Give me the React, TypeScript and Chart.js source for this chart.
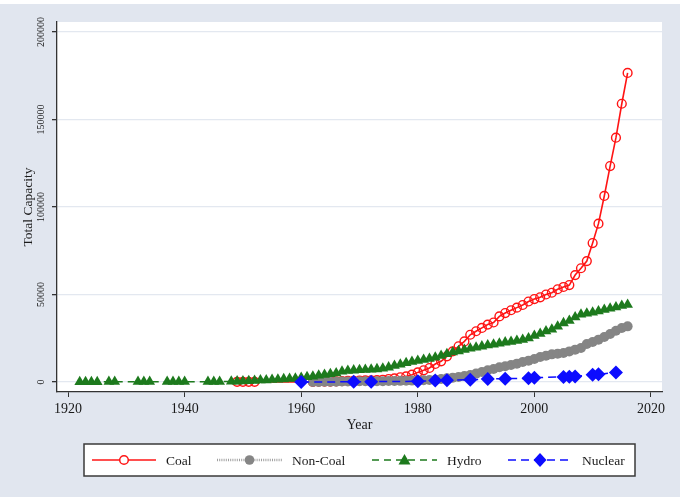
import React, { useEffect, useRef } from 'react';
import { Chart, registerables } from 'chart.js';

Chart.register(...registerables);

// ---------------- data ----------------
const coalYears = [
  1949, 1950, 1951, 1952,
  1962, 1963, 1964, 1965, 1966, 1967, 1968, 1969, 1970, 1971, 1972, 1973, 1974, 1975, 1976, 1977, 1978, 1979,
  1980, 1981, 1982, 1983, 1984, 1985, 1986, 1987, 1988, 1989, 1990, 1991, 1992, 1993, 1994, 1995, 1996, 1997,
  1998, 1999, 2000, 2001, 2002, 2003, 2004, 2005, 2006, 2007, 2008, 2009, 2010, 2011, 2012, 2013, 2014, 2015, 2016,
];
const coalValues = [
  100, 100, 100, 100,
  100, 150, 200, 250, 400, 500, 600, 700, 800, 900, 1000, 1100, 1300, 1700, 2100, 2700, 3200, 4200,
  5500, 6700, 8000, 10300, 11800, 14700, 17500, 20400, 23200, 27000, 29000, 30900, 32800, 34000, 37500, 39400, 41000, 42500,
  44000, 46000, 47400, 48400, 50000, 51000, 53000, 54300, 55400, 61100, 65000, 69100, 79400, 90500, 106300, 123400, 139600, 159000, 176600,
];

const nonCoalYears = [
  1962, 1963, 1964, 1965, 1966, 1967, 1968, 1969, 1970, 1971, 1972, 1973, 1974, 1975, 1976, 1977, 1978, 1979,
  1980, 1981, 1982, 1983, 1984, 1985, 1986, 1987, 1988, 1989, 1990, 1991, 1992, 1993, 1994, 1995, 1996, 1997,
  1998, 1999, 2000, 2001, 2002, 2003, 2004, 2005, 2006, 2007, 2008, 2009, 2010, 2011, 2012, 2013, 2014, 2015, 2016,
];
const nonCoalValues = [
  0, 50, 100, 150, 200, 250, 300, 350, 400, 400, 450, 500, 500, 550, 600, 650, 700, 800,
  900, 1000, 1100, 1300, 1700, 2100, 2500, 2900, 3400, 4000, 4800, 5700, 6700, 7400, 8400, 9000, 9700, 10500,
  11400, 12200, 13100, 14300, 15000, 15800, 16200, 16600, 17500, 18500, 19400, 21700, 22900, 24200, 25700, 27400, 29300, 30900, 31800,
];

const hydroYears = [
  1922, 1923, 1924, 1925, 1927, 1928, 1932, 1933, 1934, 1937, 1938, 1939, 1940, 1944, 1945, 1946,
  1948, 1949, 1950, 1951, 1952, 1953, 1954, 1955, 1956, 1957, 1958, 1959, 1960, 1961,
  1962, 1963, 1964, 1965, 1966, 1967, 1968, 1969, 1970, 1971, 1972, 1973, 1974, 1975, 1976, 1977, 1978, 1979,
  1980, 1981, 1982, 1983, 1984, 1985, 1986, 1987, 1988, 1989, 1990, 1991, 1992, 1993, 1994, 1995, 1996, 1997,
  1998, 1999, 2000, 2001, 2002, 2003, 2004, 2005, 2006, 2007, 2008, 2009, 2010, 2011, 2012, 2013, 2014, 2015, 2016,
];
const hydroValues = [
  100, 100, 100, 100, 150, 150, 150, 150, 150, 200, 200, 200, 200, 200, 200, 200,
  300, 400, 500, 600, 800, 1000, 1100, 1300, 1500, 1700, 1900, 2100, 2500, 2900,
  3200, 3800, 4200, 4600, 5100, 6100, 6500, 6700, 6900, 7000, 7200, 7400, 7800, 8400, 9300, 10100, 10900, 11600,
  12200, 12800, 13300, 14100, 15000, 16000, 17000, 17700, 18500, 19200, 19800, 20400, 21000, 21500, 22000, 22700, 23000, 23600,
  24200, 25100, 26500, 27600, 29000, 30000, 31800, 33700, 35000, 37000, 38600, 39200, 39800, 40500, 41300, 42000, 42800, 43600, 44200,
];

const nuclearYears = [1960, 1969, 1972, 1980, 1983, 1985, 1989, 1992, 1995, 1999, 2000, 2005, 2006, 2007, 2010, 2011, 2014];
const nuclearValues = [0, 100, 200, 400, 800, 1000, 1300, 1700, 1900, 2100, 2500, 2900, 3000, 3200, 4200, 4400, 5500];

const xTicks = [1920, 1940, 1960, 1980, 2000, 2020];
const yTicks = [0, 50000, 100000, 150000, 200000];

const seriesNames = ['Coal', 'Non-Coal', 'Hydro', 'Nuclear'];

// ---------------- styles ----------------
const FONT = "'Liberation Serif', 'Times New Roman', serif";
const BG = '#e1e6ef';
const RED = '#ff1414';
const GRAY = '#858585';
const GREEN = '#1d7a1d';
const BLUE = '#0c0cff';

const toPoints = (xs: number[], ys: number[]) => xs.map((x, i) => ({ x, y: ys[i] }));

function drawMarker(ctx: CanvasRenderingContext2D, kind: string, x: number, y: number, color: string) {
  ctx.save();
  ctx.setLineDash([]);
  ctx.strokeStyle = color;
  ctx.fillStyle = color;
  ctx.lineWidth = 1.5;
  ctx.beginPath();
  if (kind === 'oh') {
    ctx.arc(x, y, 4.3, 0, Math.PI * 2);
    ctx.fillStyle = '#fff';
    ctx.fill();
    ctx.stroke();
  } else if (kind === 'o') {
    ctx.arc(x, y, 4.8, 0, Math.PI * 2);
    ctx.fill();
  } else if (kind === 't') {
    ctx.moveTo(x, y - 6);
    ctx.lineTo(x + 6, y + 4.5);
    ctx.lineTo(x - 6, y + 4.5);
    ctx.closePath();
    ctx.fill();
  } else {
    ctx.moveTo(x, y - 7);
    ctx.lineTo(x + 6.5, y);
    ctx.lineTo(x, y + 7);
    ctx.lineTo(x - 6.5, y);
    ctx.closePath();
    ctx.fill();
  }
  ctx.restore();
}

const backgroundPlugin = {
  id: 'stataBackground',
  beforeDraw(chart: any) {
    const { ctx, width, height, chartArea } = chart;
    ctx.save();
    ctx.fillStyle = '#ffffff';
    ctx.fillRect(0, 0, width, height);
    ctx.fillStyle = BG;
    ctx.fillRect(0, 4, width, 493);
    ctx.fillStyle = '#ffffff';
    ctx.fillRect(chartArea.left, chartArea.top, chartArea.right - chartArea.left, chartArea.bottom - chartArea.top);
    ctx.restore();
  },
};

const legendPlugin = {
  id: 'stataLegend',
  afterDraw(chart: any) {
    const { ctx } = chart;
    const box = { x: 84, y: 444, w: 551, h: 32 };
    const cy = box.y + box.h / 2;
    ctx.save();
    ctx.fillStyle = '#ffffff';
    ctx.fillRect(box.x, box.y, box.w, box.h);
    ctx.strokeStyle = '#3a3a3a';
    ctx.lineWidth = 1.5;
    ctx.strokeRect(box.x, box.y, box.w, box.h);

    const items = [
      { name: seriesNames[0], color: RED, dash: [] as number[], marker: 'oh', x0: 92, x1: 156, tx: 166, lw: 1.5 },
      { name: seriesNames[1], color: '#a0a0a0', dash: [1, 1.2], marker: 'o', x0: 217, x1: 282, tx: 292, lw: 2.5 },
      { name: seriesNames[2], color: GREEN, dash: [7, 5], marker: 't', x0: 372, x1: 437, tx: 447, lw: 1.5 },
      { name: seriesNames[3], color: BLUE, dash: [8, 5], marker: 'd', x0: 508, x1: 572, tx: 582, lw: 1.5 },
    ];
    items.forEach((it) => {
      ctx.save();
      ctx.strokeStyle = it.color;
      ctx.lineWidth = it.lw;
      ctx.setLineDash(it.dash);
      ctx.beginPath();
      ctx.moveTo(it.x0, cy);
      ctx.lineTo(it.x1, cy);
      ctx.stroke();
      ctx.restore();
      const mColor = it.marker === 'o' ? GRAY : it.color;
      drawMarker(ctx, it.marker, (it.x0 + it.x1) / 2, cy, mColor);
      ctx.fillStyle = '#1a1a1a';
      ctx.font = `13.5px ${FONT}`;
      ctx.textBaseline = 'middle';
      ctx.textAlign = 'left';
      ctx.fillText(it.name, it.tx, cy + 1);
    });
    ctx.restore();
  },
};

export default function App() {
  const canvasRef = useRef<HTMLCanvasElement | null>(null);

  useEffect(() => {
    document.body.style.margin = '0';
    const canvas = canvasRef.current;
    if (!canvas) return;

    const chart = new Chart(canvas, {
      type: 'scatter',
      data: {
        datasets: [
          {
            label: seriesNames[0],
            data: toPoints(coalYears, coalValues),
            showLine: true,
            borderColor: RED,
            borderWidth: 1.6,
            pointStyle: 'circle',
            pointRadius: 4.4,
            pointBorderWidth: 1.4,
            pointBorderColor: RED,
            pointBackgroundColor: 'rgba(0,0,0,0)',
            order: 3,
          },
          {
            label: seriesNames[1],
            data: toPoints(nonCoalYears, nonCoalValues),
            showLine: true,
            borderColor: '#a0a0a0',
            borderWidth: 1.5,
            borderDash: [1, 1.2],
            pointStyle: 'circle',
            pointRadius: 5,
            pointBorderWidth: 0,
            pointBorderColor: GRAY,
            pointBackgroundColor: GRAY,
            order: 2,
          },
          {
            label: seriesNames[2],
            data: toPoints(hydroYears, hydroValues),
            showLine: true,
            borderColor: GREEN,
            borderWidth: 1.5,
            borderDash: [7, 5],
            pointStyle: 'triangle',
            pointRadius: 6.2,
            pointBorderWidth: 0,
            pointBorderColor: GREEN,
            pointBackgroundColor: GREEN,
            order: 1,
          },
          {
            label: seriesNames[3],
            data: toPoints(nuclearYears, nuclearValues),
            showLine: true,
            borderColor: BLUE,
            borderWidth: 1.5,
            borderDash: [8, 5],
            pointStyle: 'rectRot',
            pointRadius: 7,
            pointBorderWidth: 0,
            pointBorderColor: BLUE,
            pointBackgroundColor: BLUE,
            order: 0,
          },
        ],
      },
      options: {
        responsive: false,
        animation: false,
        devicePixelRatio: 1,
        layout: { padding: { top: 22, right: 18, left: 0, bottom: 0 } },
        plugins: {
          legend: { display: false },
          tooltip: { enabled: false },
        },
        scales: {
          x: {
            type: 'linear',
            min: 1918.1,
            max: 2021.9,
            afterBuildTicks: (s: any) => {
              s.ticks = xTicks.map((v) => ({ value: v }));
            },
            afterFit: (s: any) => {
              s.height = 112;
            },
            grid: { display: true, drawOnChartArea: false, tickColor: '#333', tickLength: 5, lineWidth: 1 },
            border: { display: true, color: '#333', width: 1.3 },
            ticks: {
              autoSkip: false,
              maxRotation: 0,
              padding: 4,
              color: '#1a1a1a',
              font: { family: FONT, size: 14 },
              callback: (v: any) => String(v),
            },
            title: {
              display: true,
              text: 'Year',
              color: '#1a1a1a',
              font: { family: FONT, size: 14 },
              padding: { top: 0, bottom: 70 },
            },
          },
          y: {
            type: 'linear',
            min: -5714,
            max: 205714,
            afterBuildTicks: (s: any) => {
              s.ticks = yTicks.map((v) => ({ value: v }));
            },
            afterFit: (s: any) => {
              s.width = 57;
            },
            grid: { display: true, color: '#e3e8f0', lineWidth: 1.3, tickColor: '#333', tickLength: 5 },
            border: { display: true, color: '#333', width: 1.3 },
            ticks: {
              autoSkip: false,
              minRotation: 90,
              maxRotation: 90,
              crossAlign: 'center',
              padding: -4,
              color: '#1a1a1a',
              font: { family: FONT, size: 10 },
              callback: (v: any) => String(v),
            },
            title: {
              display: true,
              text: 'Total Capacity',
              color: '#1a1a1a',
              font: { family: FONT, size: 13.5 },
              padding: { top: 20, bottom: 0 },
            },
          },
        },
      } as any,
      plugins: [backgroundPlugin, legendPlugin],
    });

    return () => chart.destroy();
  }, []);

  return (
    <div style={{ width: 680, height: 504, position: 'relative' }}>
      <canvas ref={canvasRef} width={680} height={504} style={{ display: 'block' }} />
    </div>
  );
}
